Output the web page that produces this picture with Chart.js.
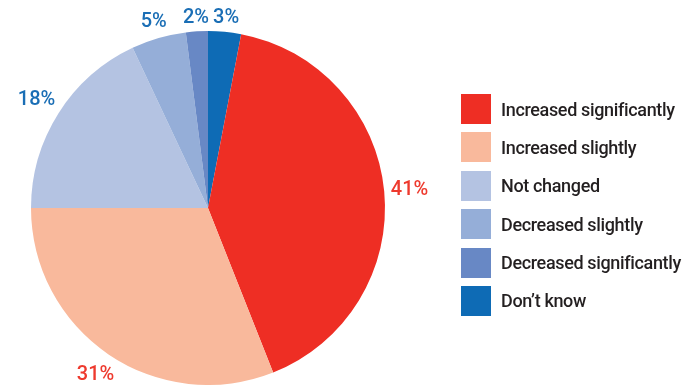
<!DOCTYPE html>
<html>
<head>
<meta charset="utf-8">
<script src="https://cdn.jsdelivr.net/npm/chart.js@4.4.4/dist/chart.umd.min.js"></script>
<style>
  html, body { margin: 0; padding: 0; background: #fff; }
  #wrap { width: 684px; height: 385px; position: relative; }
  #legend { position: absolute; left: 461px; top: 94px; margin: 0; padding: 0; list-style: none;
            font: 500 18px Roboto, "Liberation Sans", sans-serif; letter-spacing: -0.35px; color: #231f20; }
  #legend li { height: 30px; margin-bottom: 8.4px; display: flex; align-items: center; white-space: nowrap; }
  #legend span { display: inline-block; width: 30px; height: 30px; margin-right: 10px; }
</style>
</head>
<body>
<div id="wrap"><canvas id="chart"></canvas><ul id="legend"></ul></div>
<script>
const categories = ['Increased significantly', 'Increased slightly', 'Not changed', 'Decreased slightly', 'Decreased significantly', 'Don\u2019t know'];
const shares = [41, 31, 18, 5, 2, 3];
const sliceColors = ['#ee2e24', '#f9b99c', '#b4c3e2', '#95aed8', '#6888c5', '#0e6bb5'];
const labelColors = ['#ee3a2e', '#ee3a2e', '#1a6eb5', '#1a6eb5', '#1a6eb5', '#1a6eb5'];

// pie starts at "Don't know", then goes clockwise through the rest
const order = [5, 0, 1, 2, 3, 4];

// percent labels sitting just outside each slice
const outsideLabels = {
  id: 'outsideLabels',
  afterDatasetsDraw(chart) {
    const { ctx } = chart;
    const ds = chart.data.datasets[0];
    ctx.save();
    ctx.font = '500 20px Roboto, "Liberation Sans", sans-serif';
    ctx.textAlign = 'center';
    ctx.textBaseline = 'middle';
    chart.getDatasetMeta(0).data.forEach((arc, i) => {
      const { x, y, startAngle, endAngle, outerRadius } = arc.getProps(['x', 'y', 'startAngle', 'endAngle', 'outerRadius'], true);
      const mid = (startAngle + endAngle) / 2;
      const dx = Math.cos(mid), dy = Math.sin(mid);
      const text = ds.data[i] + '%';
      const hw = ctx.measureText(text).width / 2;
      const dist = outerRadius + 6 + Math.abs(dx) * hw + Math.abs(dy) * 8;
      ctx.fillStyle = ds.labelColors[i];
      ctx.fillText(text, x + dx * dist, y + dy * dist + 1);
    });
    ctx.restore();
  }
};

const chartEl = document.querySelector('#chart');
const data = {
  labels: order.map(i => categories[i]),
  datasets: [{
    data: order.map(i => shares[i]),
    backgroundColor: order.map(i => sliceColors[i]),
    labelColors: order.map(i => labelColors[i]),
    borderWidth: 0,
  }]
};

const options = {
  responsive: true,
  maintainAspectRatio: false,
  animation: false,
  layout: { padding: { top: 31, left: 0, right: 268, bottom: 0 } },
  plugins: {
    tooltip: { enabled: false },
    legend: { display: false }
  }
};

new Chart(chartEl, { type: 'pie', data, options, plugins: [outsideLabels] });

// legend keeps the reading order, not the pie order
const legendEl = document.querySelector('#legend');
categories.forEach((name, i) => {
  const li = document.createElement('li');
  const box = document.createElement('span');
  box.style.background = sliceColors[i];
  li.appendChild(box);
  li.appendChild(document.createTextNode(name));
  legendEl.appendChild(li);
});
</script>
</body>
</html>
